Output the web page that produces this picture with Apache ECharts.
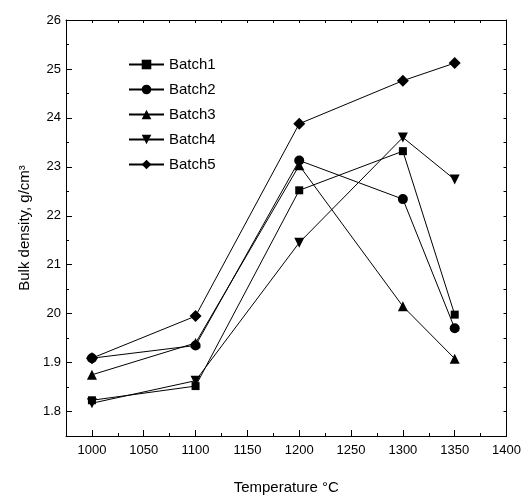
<!DOCTYPE html>
<html>
<head>
<meta charset="utf-8">
<script src="https://cdn.jsdelivr.net/npm/echarts@6/dist/echarts.min.js"></script>
<style>
  html, body { margin: 0; padding: 0; background: #fff; }
  #chart { width: 524px; height: 500px; }
</style>
</head>
<body>
<div id="chart"></div>
<script>
// data
const temps = [1000, 1100, 1200, 1300, 1350];
const batchNames = ['Batch1', 'Batch2', 'Batch3', 'Batch4', 'Batch5'];
const batch1 = [18.23, 18.52, 22.52, 23.32, 19.98];
const batch2 = [19.09, 19.35, 23.13, 22.34, 19.70];
const batch3 = [18.75, 19.40, 23.03, 20.15, 19.08];
const batch4 = [18.17, 18.63, 21.45, 23.60, 22.74];
const batch5 = [19.09, 19.95, 23.88, 24.76, 25.12];

// tick labels as printed on the original
const xTicks = [1000, 1050, 1100, 1150, 1200, 1250, 1300, 1350, 1400];
const yTicks = [18, 19, 20, 21, 22, 23, 24, 25, 26];
const yTickLabels = ['1.8', '1.9', '20', '21', '22', '23', '24', '25', '26'];

const symbols = ['rect', 'circle', 'triangle', 'triangle', 'diamond'];
const symbolSizes = [8, 10, 10, 10, 12];
const symbolRotates = [0, 0, 0, 180, 0];

const chart = echarts.init(document.getElementById('chart'));

const font = 'Liberation Sans, Arial, sans-serif';
const lineStyle = { color: '#000', width: 1 };

const series = [batch1, batch2, batch3, batch4, batch5].map((vals, i) => ({
    name: batchNames[i],
    type: 'line',
    data: temps.map((t, j) => [t, vals[j]]),
    symbol: symbols[i],
    symbolSize: symbolSizes[i],
    symbolRotate: symbolRotates[i],
    itemStyle: { color: '#000' },
    lineStyle: { color: '#000', width: 1 },
    animation: false
}));

const xBase = { type: 'value', min: 975, max: 1400, splitLine: { show: false } };
const yBase = { type: 'value', min: 17.5, max: 26, splitLine: { show: false } };

const option = {
    backgroundColor: '#fff',
    animation: false,
    grid: { left: 66, right: 17, top: 20, bottom: 61 },
    legend: {
        orient: 'vertical',
        left: 128,
        top: 57,
        padding: 0,
        itemWidth: 35,
        itemHeight: 12,
        itemGap: 10,
        textStyle: { fontFamily: font, fontSize: 15, color: '#000' },
        data: batchNames
    },
    xAxis: [{
        ...xBase,
        position: 'bottom',
        name: 'Temperature °C',
        nameLocation: 'middle',
        nameGap: 44,
        nameTextStyle: { fontFamily: font, fontSize: 15, color: '#000' },
        axisLine: { lineStyle: lineStyle },
        axisTick: { inside: true, length: 6, lineStyle: lineStyle, customValues: xTicks },
        axisLabel: {
            fontFamily: font, fontSize: 13, color: '#000', margin: 8,
            customValues: xTicks,
            formatter: (v) => String(v)
        }
    }, {
        ...xBase,
        position: 'bottom',
        interval: 25,
        axisLine: { show: false },
        axisTick: { inside: true, length: 3, lineStyle: lineStyle },
        axisLabel: { show: false }
    }, {
        ...xBase,
        position: 'top',
        interval: 25,
        axisLine: { lineStyle: lineStyle },
        axisTick: { inside: true, length: 3, lineStyle: lineStyle },
        axisLabel: { show: false }
    }],
    yAxis: [{
        ...yBase,
        position: 'left',
        name: 'Bulk density, g/cm³',
        nameLocation: 'middle',
        nameGap: 34,
        nameTextStyle: { fontFamily: font, fontSize: 15, color: '#000' },
        axisLine: { show: true, lineStyle: lineStyle },
        axisTick: { show: true, inside: true, length: 6, lineStyle: lineStyle, customValues: yTicks },
        axisLabel: {
            fontFamily: font, fontSize: 13, color: '#000', margin: 5,
            customValues: yTicks,
            formatter: (v) => {
                const k = yTicks.indexOf(Math.round(v));
                return k >= 0 ? yTickLabels[k] : '';
            }
        }
    }, {
        ...yBase,
        position: 'left',
        interval: 0.5,
        axisLine: { show: false },
        axisTick: { show: true, inside: true, length: 3, lineStyle: lineStyle },
        axisLabel: { show: false }
    }, {
        ...yBase,
        position: 'right',
        interval: 0.5,
        axisLine: { show: true, lineStyle: lineStyle },
        axisTick: { show: true, inside: true, length: 3, lineStyle: lineStyle },
        axisLabel: { show: false }
    }],
    series: series
};

chart.setOption(option);
</script>
</body>
</html>
